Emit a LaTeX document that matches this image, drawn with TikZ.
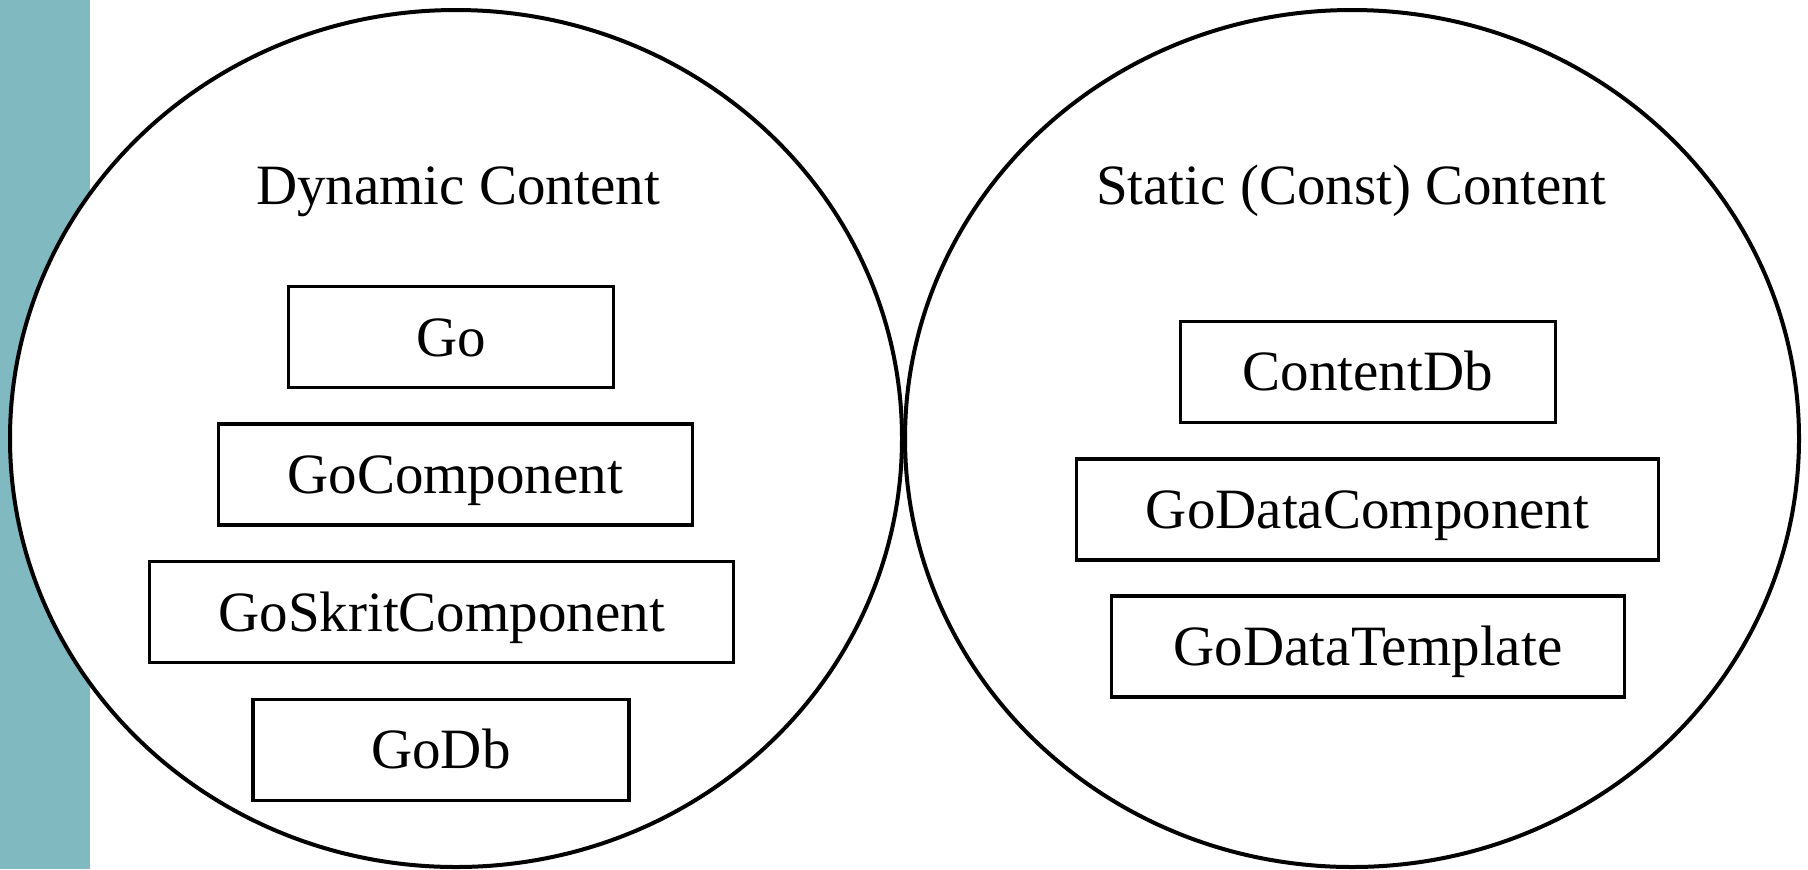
\documentclass[tikz,border=0pt]{standalone}
\usepackage{fontspec}
\setmainfont{Liberation Serif}
\definecolor{sidebar}{RGB}{128,185,192}
\begin{document}
\begin{tikzpicture}[x=0.5pt,y=-0.5pt,
  label text/.style={font=\fontsize{28.5}{34}\selectfont, inner sep=0pt},
  classbox/.style={label text, draw=black, line width=1.6pt, fill=white,
    minimum height=50.5pt, text height=18.8pt, text depth=0pt, anchor=center},
  region/.style={draw=black, line width=2pt, fill=white}]
  % canvas and side bar
  \useasboundingbox (0,0) rectangle (1808,869);
  \fill[white] (0,0) rectangle (1808,869);
  \fill[sidebar] (0,0) rectangle (90,869);

  % the two content regions
  \draw[region] (456,438.5) ellipse [x radius=446, y radius=428.5];
  \draw[region] (1352,438.5) ellipse [x radius=447, y radius=428.5];

  % region titles
  \node[label text, anchor=base] (dyntitle) at (458,204) {Dynamic Content};
  \node[label text, anchor=base] (stattitle) at (1351,204) {Static (Const) Content};

  % dynamic classes
  \node[classbox, minimum width=162.5pt] (go)     at (451,337.3) {Go};
  \node[classbox, minimum width=237pt]   (gocomp) at (455.3,474.5) {GoComponent};
  \node[classbox, minimum width=292pt]   (goskrit) at (441.6,612.3) {GoSkritComponent};
  \node[classbox, minimum width=188pt]   (godb)   at (441,750) {GoDb};

  % static classes
  \node[classbox, minimum width=187.5pt] (contentdb) at (1367.8,372) {ContentDb};
  \node[classbox, minimum width=291pt]   (godatacomp) at (1367.5,509.5) {GoDataComponent};
  \node[classbox, minimum width=256.5pt] (godatatpl) at (1368,646.5) {GoDataTemplate};
\end{tikzpicture}
\end{document}
